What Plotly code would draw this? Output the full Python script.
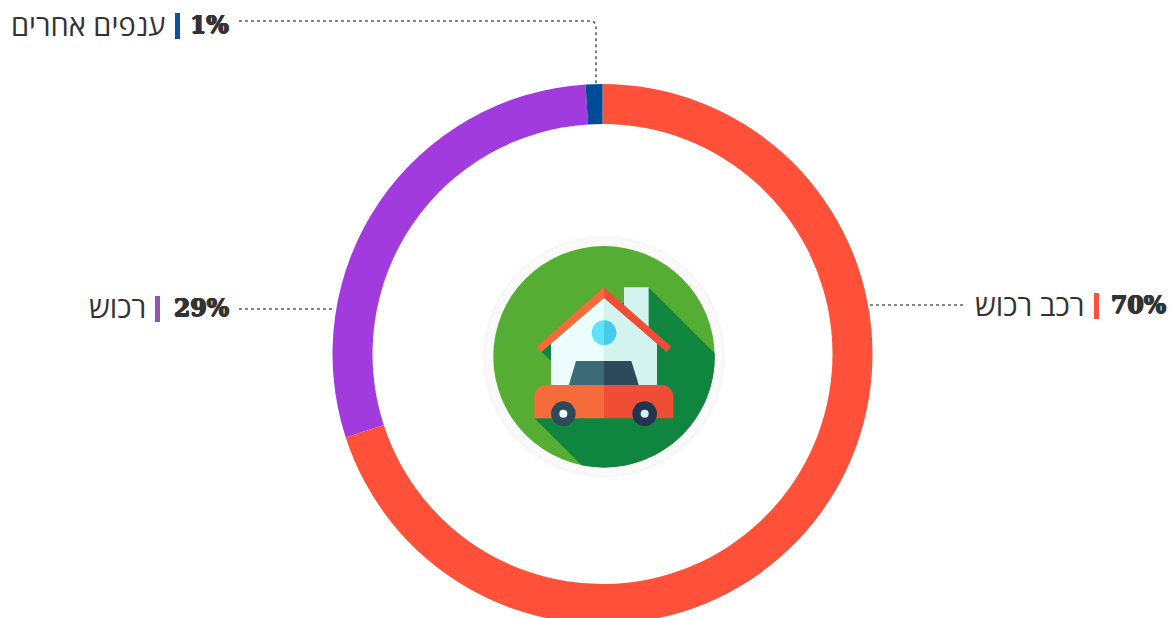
import numpy as np
import plotly.graph_objects as go

categories = ["רכב רכוש", "רכוש", "ענפים אחרים"]
values = [70, 29, 1]
percent_labels = ["70%", "29%", "1%"]
slice_colors = ["#FF5039", "#A23BDD", "#004C97"]
bar_colors = ["#FF5039", "#9355AE", "#0E4F9E"]

W, H = 1171, 660
px = lambda x: x / W
py = lambda y: 1 - y / H
TEXT = "#333333"


def poly(points, color, close=True):
    d = "M" + " L".join(f"{px(x):.5f},{py(y):.5f}" for x, y in points) + (" Z" if close else "")
    return dict(type="path", xref="paper", yref="paper", path=d, fillcolor=color,
                line=dict(width=0), layer="above")


def zp(x, y):
    return (480 + x / 3, 230 + y / 3)


def zpoly(points, color):
    return poly([zp(x, y) for x, y in points], color)


def circle(cx, cy, r, color):
    return dict(type="circle", xref="paper", yref="paper",
                x0=px(cx - r), x1=px(cx + r), y0=py(cy + r), y1=py(cy - r),
                fillcolor=color, line=dict(width=0), layer="above")


def zcircle(x, y, r, color):
    return circle(480 + x / 3, 230 + y / 3, r / 3, color)


def rect(x0, y0, x1, y1, color):
    return poly([(x0, y0), (x1, y0), (x1, y1), (x0, y1)], color)


def line(points):
    d = "M" + " L".join(f"{px(x):.5f},{py(y):.5f}" for x, y in points)
    return dict(type="path", xref="paper", yref="paper", path=d,
                line=dict(color="#5F5F5F", width=1.6, dash="dot"), layer="above")


CX, CY, R = 604, 356.7, 110.7


def arc(a0, a1, n=50):
    t = np.radians(np.linspace(a0, a1, n))
    return [(CX + R * np.cos(a), CY + R * np.sin(a)) for a in t]


shapes = []
# leader lines
shapes += [
    line([(239, 21), (591, 21), (594, 22), (596, 25), (596, 84)]),
    line([(870, 305), (965, 305)]),
    line([(239, 309), (335, 309)]),
]
# separator bars
shapes += [
    rect(1094, 293, 1099, 319, bar_colors[0]),
    rect(155, 296, 160, 322, bar_colors[1]),
    rect(175, 13, 180, 39, bar_colors[2]),
]
# badge halo
for r, c in [(122, "#FCFCFC"), (121, "#F9F9F9"), (120, "#F6F6F6"), (118.5, "#FAFAFA"), (R, "#55AE33")]:
    shapes.append(circle(CX, CY, r, c))
# long shadow
end_ang = np.degrees(np.arctan2((370 - 380) / 3, (703 - 372) / 3))
shadow_end = np.degrees(np.arctan2((707 - 380) / 3, (305 - 372) / 3))
shapes.append(poly([zp(505, 172)] + arc(end_ang, shadow_end)
                   + [zp(163, 565), zp(300, 565), zp(300, 300)], "#10853F"))
shapes.append(zpoly([(184, 366), (213, 340), (213, 392)], "#10853F"))
# chimney
shapes.append(zpoly([(432, 172), (506, 172), (506, 300), (432, 300)], "#D3F4EE"))
# house body
shapes.append(zpoly([(213, 340), (372, 200), (372, 480), (213, 480)], "#EBFDFC"))
shapes.append(zpoly([(372, 200), (531, 340), (531, 480), (372, 480)], "#D3F4EE"))
# roof
shapes.append(zpoly([(170, 350), (372, 172), (372, 204), (184, 366)], "#F56B3A"))
shapes.append(zpoly([(372, 172), (574, 350), (560, 366), (372, 204)], "#EE4E36"))
# window
shapes.append(zcircle(372, 308, 37, "#62E1FD"))
t = np.radians(np.linspace(-90, 90, 30))
shapes.append(zpoly([(372 + 37 * np.cos(a), 308 + 37 * np.sin(a)) for a in t], "#45CBEB"))
# windshield
shapes.append(zpoly([(288, 393), (372, 393), (372, 470), (265, 470)], "#3C6B77"))
shapes.append(zpoly([(372, 393), (454, 393), (478, 470), (372, 470)], "#2D4A5A"))
# car body
t1 = np.radians(np.linspace(180, 270, 10))
shapes.append(zpoly([(163, 565)] + [(198 + 35 * np.cos(a), 500 + 35 * np.sin(a)) for a in t1]
                    + [(372, 465), (372, 565)], "#F56B3A"))
t2 = np.radians(np.linspace(270, 360, 10))
shapes.append(zpoly([(372, 565), (372, 465)] + [(545 + 35 * np.cos(a), 500 + 35 * np.sin(a)) for a in t2]
                    + [(580, 565)], "#EE4E36"))
# wheels
shapes += [zcircle(250, 551, 37, "#2D4A5A"), zcircle(250, 551, 12, "#EBFDFC"),
           zcircle(494, 551, 37, "#22344F"), zcircle(494, 551, 12, "#D3F4EE")]

HEB = "Open Sans, Noto Sans, sans-serif"
PCT = "DejaVu Serif, serif"
HEAVY = "0.8px 0 0 #333333, -0.8px 0 0 #333333, 0 0.5px 0 #333333, 0 -0.5px 0 #333333"


def label(x, y, text, size, pct=False):
    f = dict(family=PCT if pct else HEB, size=size, color=TEXT)
    if pct:
        f["shadow"] = HEAVY
    return dict(xref="paper", yref="paper", x=px(x), y=py(y),
                text=f"<b>{text}</b>" if pct else text,
                showarrow=False, xanchor="right", yanchor="middle", font=f)


annotations = [
    label(1168, 305, percent_labels[0], 23.5, True),
    label(1086, 304, categories[0], 29.5),
    label(231, 308, percent_labels[1], 23.5, True),
    label(148, 307, categories[1], 29.5),
    label(231, 25, percent_labels[2], 23.5, True),
    label(167, 24, categories[2], 29),
]

fig = go.Figure(go.Pie(
    labels=categories,
    values=values,
    sort=False,
    direction="clockwise",
    rotation=0,
    hole=230 / 270,
    textinfo="none",
    hoverinfo="skip",
    marker=dict(colors=slice_colors, line=dict(width=0)),
    domain=dict(x=[332.5 / W, 872.5 / W], y=[1 - 624 / H, 1 - 84 / H]),
))
fig.update_layout(
    width=W, height=H, margin=dict(l=0, r=0, t=0, b=0, pad=0),
    paper_bgcolor="white", plot_bgcolor="white", showlegend=False,
    shapes=shapes, annotations=annotations,
)
fig.write_html("out.html", config=dict(displayModeBar=False),
               post_script="document.documentElement.style.overflow='hidden';document.body.style.margin='0';document.body.style.overflow='hidden';")
